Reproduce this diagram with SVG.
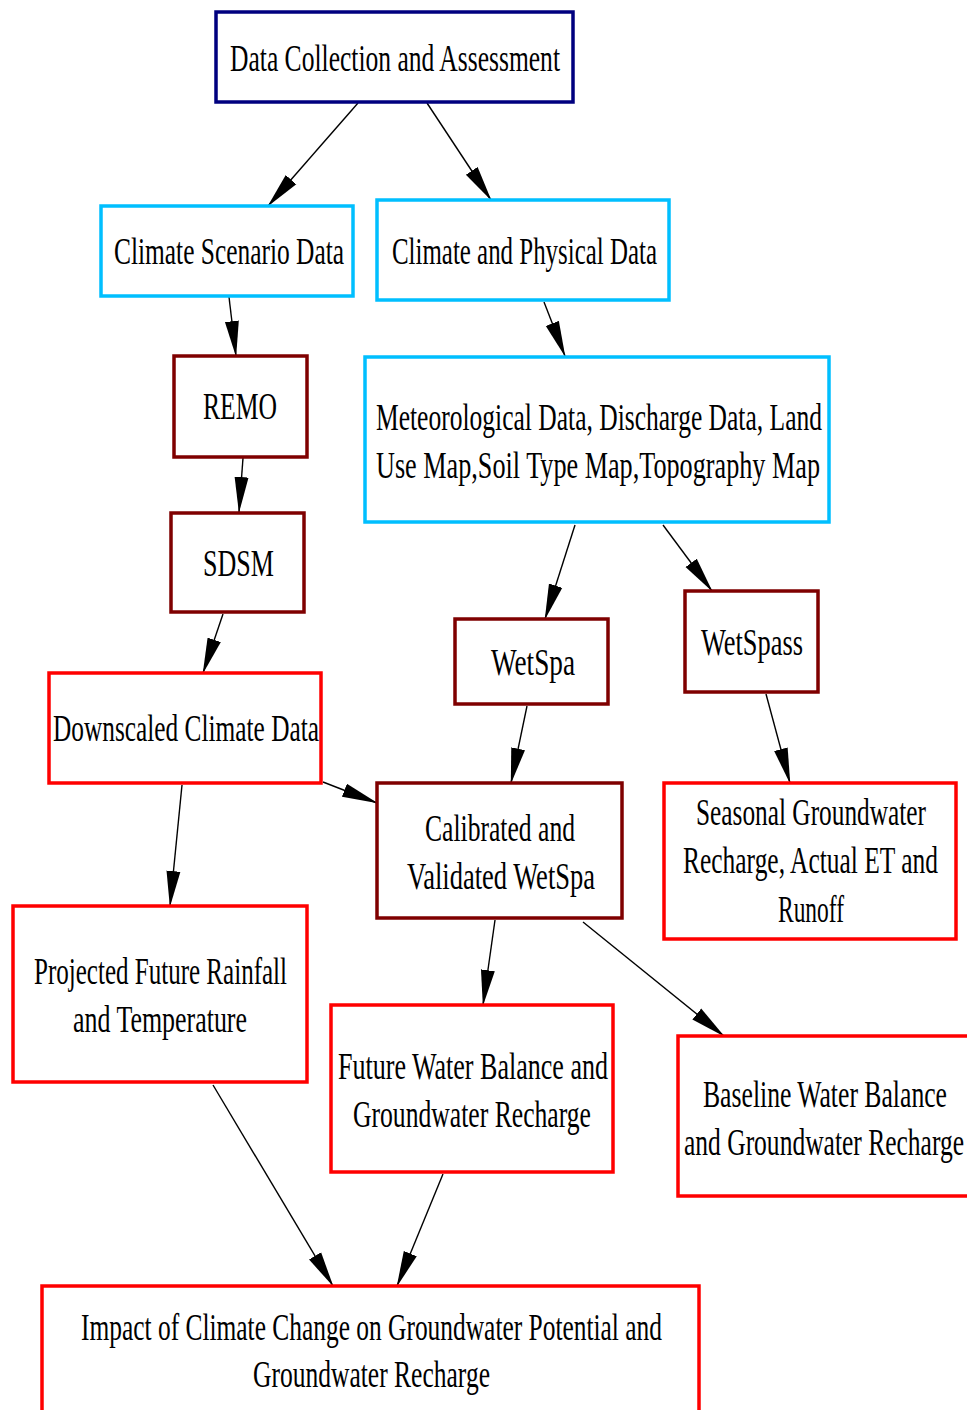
<svg xmlns="http://www.w3.org/2000/svg" width="967" height="1410" viewBox="0 0 967 1410">
<defs>
<style>
.box{fill:#fff;stroke-width:3.5}
.navy{stroke:#00007f}
.sky{stroke:#00bfff}
.dred{stroke:#7f0000}
.red{stroke:#ff0000}
text{font-family:"Liberation Serif","Times New Roman",serif;font-size:24px;fill:#000}
.edge{stroke:#000;stroke-width:1.4;fill:none;marker-end:url(#ah)}
</style>
<marker id="ah" markerUnits="userSpaceOnUse" markerWidth="36" markerHeight="16" viewBox="0 0 36 16" refX="35" refY="8" orient="auto">
<path d="M0,1 L36,8 L0,15 z" fill="#000"/>
</marker>
</defs>
<rect width="967" height="1410" fill="#fff"/>
<g id="connectors">
<line class="edge" x1="358" y1="103" x2="268" y2="206"/>
<line class="edge" x1="427" y1="103" x2="491" y2="200"/>
<line class="edge" x1="229" y1="297" x2="236" y2="356"/>
<line class="edge" x1="544" y1="302" x2="565" y2="356"/>
<line class="edge" x1="243" y1="458" x2="239" y2="512"/>
<line class="edge" x1="223" y1="614" x2="203" y2="673"/>
<line class="edge" x1="575" y1="525" x2="545" y2="619"/>
<line class="edge" x1="663" y1="525" x2="712" y2="591"/>
<line class="edge" x1="527" y1="706" x2="511" y2="783"/>
<line class="edge" x1="766" y1="694" x2="790" y2="783"/>
<line class="edge" x1="323" y1="782" x2="377" y2="803"/>
<line class="edge" x1="182" y1="785" x2="170" y2="906"/>
<line class="edge" x1="495" y1="920" x2="483" y2="1005"/>
<line class="edge" x1="583" y1="922" x2="724" y2="1036"/>
<line class="edge" x1="213" y1="1085" x2="333" y2="1286"/>
<line class="edge" x1="443" y1="1174" x2="397" y2="1286"/>
</g>
<g id="n-data-collection">
<rect class="box navy" x="216" y="12" width="357" height="90"/>
<text transform="translate(230,71) scale(1,1.62)" textLength="330" lengthAdjust="spacingAndGlyphs">Data Collection and Assessment</text>
</g>
<g id="n-climate-scenario">
<rect class="box sky" x="101" y="206" width="252" height="90"/>
<text transform="translate(114,264) scale(1,1.62)" textLength="230" lengthAdjust="spacingAndGlyphs">Climate Scenario Data</text>
</g>
<g id="n-climate-physical">
<rect class="box sky" x="377" y="200" width="292" height="100"/>
<text transform="translate(392,264) scale(1,1.62)" textLength="265" lengthAdjust="spacingAndGlyphs">Climate and Physical Data</text>
</g>
<g id="n-remo">
<rect class="box dred" x="174" y="356" width="133" height="101"/>
<text transform="translate(203,419) scale(1,1.62)" textLength="74" lengthAdjust="spacingAndGlyphs">REMO</text>
</g>
<g id="n-meteo">
<rect class="box sky" x="365" y="357" width="464" height="165"/>
<text transform="translate(376,430) scale(1,1.62)" textLength="446" lengthAdjust="spacingAndGlyphs">Meteorological Data, Discharge Data, Land</text>
<text transform="translate(376,478) scale(1,1.62)" textLength="444" lengthAdjust="spacingAndGlyphs">Use Map,Soil Type Map,Topography Map</text>
</g>
<g id="n-sdsm">
<rect class="box dred" x="171" y="513" width="133" height="99"/>
<text transform="translate(203,576) scale(1,1.62)" textLength="71" lengthAdjust="spacingAndGlyphs">SDSM</text>
</g>
<g id="n-wetspa">
<rect class="box dred" x="455" y="619" width="153" height="85"/>
<text transform="translate(491,675) scale(1,1.62)" textLength="84" lengthAdjust="spacingAndGlyphs">WetSpa</text>
</g>
<g id="n-wetspass">
<rect class="box dred" x="685" y="591" width="133" height="101"/>
<text transform="translate(701,655) scale(1,1.62)" textLength="102" lengthAdjust="spacingAndGlyphs">WetSpass</text>
</g>
<g id="n-downscaled">
<rect class="box red" x="49" y="673" width="272" height="110"/>
<text transform="translate(53,741) scale(1,1.62)" textLength="266" lengthAdjust="spacingAndGlyphs">Downscaled Climate Data</text>
</g>
<g id="n-calibrated">
<rect class="box dred" x="377" y="783" width="245" height="135"/>
<text transform="translate(425,841) scale(1,1.62)" textLength="150" lengthAdjust="spacingAndGlyphs">Calibrated and</text>
<text transform="translate(407,889) scale(1,1.62)" textLength="188" lengthAdjust="spacingAndGlyphs">Validated WetSpa</text>
</g>
<g id="n-seasonal">
<rect class="box red" x="664" y="783" width="292" height="156"/>
<text transform="translate(696,825) scale(1,1.62)" textLength="230" lengthAdjust="spacingAndGlyphs">Seasonal Groundwater</text>
<text transform="translate(683,873) scale(1,1.62)" textLength="255" lengthAdjust="spacingAndGlyphs">Recharge, Actual ET and</text>
<text transform="translate(778,922) scale(1,1.62)" textLength="66" lengthAdjust="spacingAndGlyphs">Runoff</text>
</g>
<g id="n-projected">
<rect class="box red" x="13" y="906" width="294" height="176"/>
<text transform="translate(34,984) scale(1,1.62)" textLength="253" lengthAdjust="spacingAndGlyphs">Projected Future Rainfall</text>
<text transform="translate(73,1032) scale(1,1.62)" textLength="174" lengthAdjust="spacingAndGlyphs">and Temperature</text>
</g>
<g id="n-future">
<rect class="box red" x="331" y="1005" width="282" height="167"/>
<text transform="translate(338,1079) scale(1,1.62)" textLength="270" lengthAdjust="spacingAndGlyphs">Future Water Balance and</text>
<text transform="translate(353,1127) scale(1,1.62)" textLength="238" lengthAdjust="spacingAndGlyphs">Groundwater Recharge</text>
</g>
<g id="n-baseline">
<rect class="box red" x="678" y="1036" width="300" height="160"/>
<text transform="translate(703,1107) scale(1,1.62)" textLength="244" lengthAdjust="spacingAndGlyphs">Baseline Water Balance</text>
<text transform="translate(684,1155) scale(1,1.62)" textLength="280" lengthAdjust="spacingAndGlyphs">and Groundwater Recharge</text>
</g>
<g id="n-impact">
<rect class="box red" x="42" y="1286" width="657" height="140"/>
<text transform="translate(81,1340) scale(1,1.62)" textLength="581" lengthAdjust="spacingAndGlyphs">Impact of Climate Change on Groundwater Potential and</text>
<text transform="translate(253,1387) scale(1,1.62)" textLength="237" lengthAdjust="spacingAndGlyphs">Groundwater Recharge</text>
</g>
</svg>
